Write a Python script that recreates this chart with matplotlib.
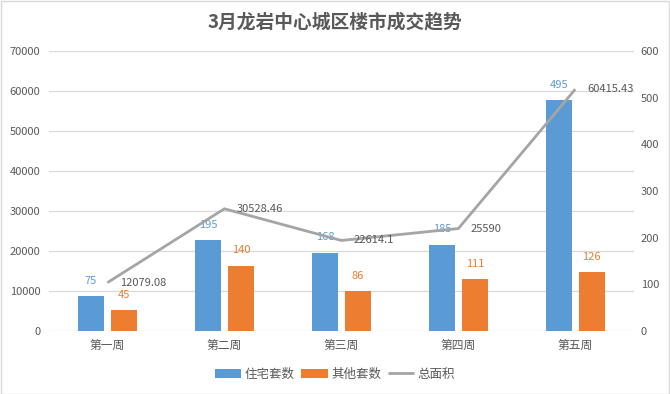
import numpy as np
import matplotlib.pyplot as plt
from matplotlib.patches import Rectangle

plt.rcParams['font.family'] = ['Noto Sans CJK SC', 'DejaVu Sans']

# data
weeks = ['第一周', '第二周', '第三周', '第四周', '第五周']
zhuzhai = [75, 195, 168, 185, 495]          # 住宅套数 (right axis)
qita = [45, 140, 86, 111, 126]              # 其他套数 (right axis)
area = [12079.08, 30528.46, 22614.1, 25590, 60415.43]   # 总面积 (left axis)
area_labels = ['12079.08', '30528.46', '22614.1', '25590', '60415.43']

BLUE = '#5B9BD5'
ORANGE = '#ED7D31'
GRAY = '#A5A5A5'
TXT = '#595959'
GRID = '#D9D9D9'

fig = plt.figure(figsize=(6.7, 3.94), dpi=100)
rect = [0.073, 0.160, 0.873, 0.711]

# left axis: 0-70000, grid, drawn at the back
ax = fig.add_axes(rect)
ax.set_ylim(0, 70000)
ax.set_yticks(np.arange(0, 70001, 10000))
ax.set_xlim(-0.5, 4.5)
ax.set_xticks(range(len(weeks)))
ax.set_xticklabels(weeks)
ax.yaxis.grid(True, color=GRID, linewidth=0.9)
ax.set_axisbelow(True)
ax.tick_params(axis='both', length=0, colors=TXT, labelsize=8)
ax.tick_params(axis='x', pad=6, labelsize=8.5)
ax.tick_params(axis='y', pad=6)
for s in ax.spines.values():
    s.set_visible(False)

# right axis: bars 0-600
ax2 = ax.twinx()
ax2.set_ylim(0, 600)
ax2.set_yticks(np.arange(0, 601, 100))
ax2.tick_params(axis='y', length=0, colors=TXT, labelsize=8, pad=5)
for s in ax2.spines.values():
    s.set_visible(False)

x = np.arange(len(weeks))
w = 0.222
off = 0.141
ax2.bar(x - off, zhuzhai, w, color=BLUE, label='住宅套数', zorder=2)
ax2.bar(x + off, qita, w, color=ORANGE, label='其他套数', zorder=2)
for i in range(len(weeks)):
    ax2.annotate(str(zhuzhai[i]), (x[i] - off, zhuzhai[i]), xytext=(0, 11),
                 textcoords='offset points', ha='center', va='center',
                 color=BLUE, fontsize=8)
    ax2.annotate(str(qita[i]), (x[i] + off, qita[i]), xytext=(0, 11),
                 textcoords='offset points', ha='center', va='center',
                 color=ORANGE, fontsize=8)

# line on top, using the left scale
ax3 = fig.add_axes(rect, sharex=ax, sharey=ax)
ax3.set_zorder(ax2.get_zorder() + 1)
ax3.patch.set_visible(False)
ax3.axis('off')
ax3.plot(x, area, color=GRAY, linewidth=2.0, label='总面积', solid_capstyle='butt')
for i in range(len(weeks)):
    ax3.annotate(area_labels[i], (x[i], area[i]), xytext=(9, 0),
                 textcoords='offset points', ha='left', va='center',
                 color=TXT, fontsize=8)

# legend
h1, l1 = ax2.get_legend_handles_labels()
h2, l2 = ax3.get_legend_handles_labels()
fig.legend(h1 + h2, l1 + l2, loc='center', bbox_to_anchor=(0.5, 0.05), ncol=3,
           frameon=False, fontsize=9, labelcolor=TXT, handlelength=2.1,
           handleheight=0.7, columnspacing=0.5, handletextpad=0.3)

fig.text(0.5, 0.944, '3月龙岩中心城区楼市成交趋势', ha='center', va='center',
         fontsize=13.5, fontweight='bold', color=TXT)

fig.patches.append(Rectangle((0.001, 0.001), 0.997, 0.997, transform=fig.transFigure,
                             fill=False, edgecolor=GRID, linewidth=1.0))

fig.savefig('out.png', dpi=100)
